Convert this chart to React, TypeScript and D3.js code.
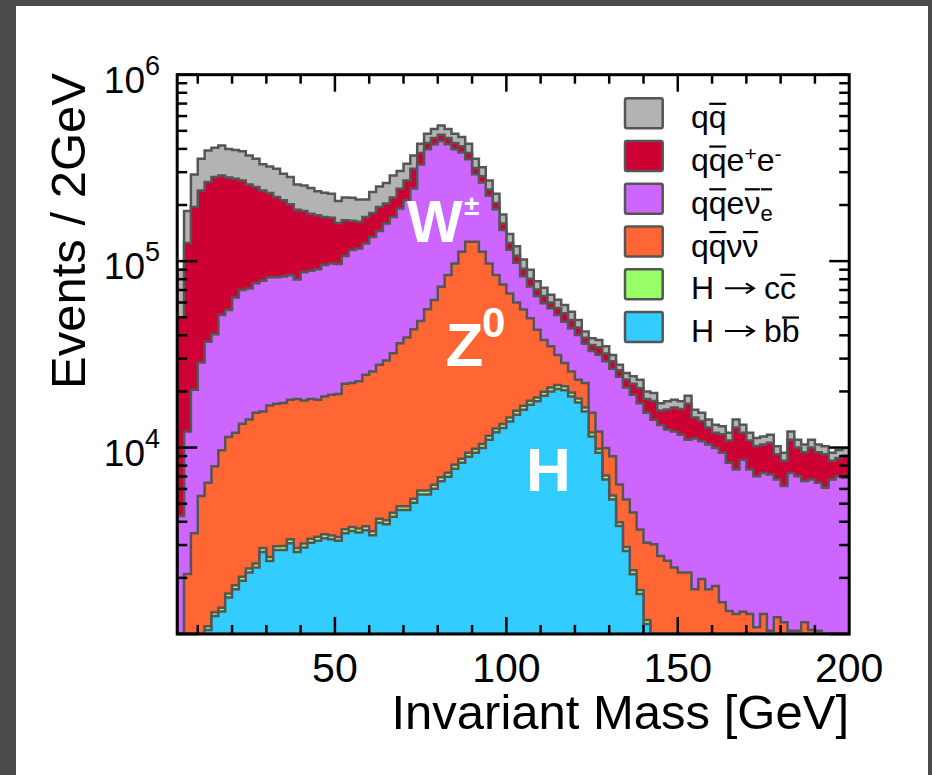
import React from 'react';
import * as d3 from 'd3';

const FONT = '"Liberation Sans", Arial, Helvetica, sans-serif';

// 2 GeV bins, lower edges from 4 to 198 GeV
const binLowEdges = d3.range(4, 200, 2);
const binWidth = 2;

// Series values per bin (events / 2 GeV)
const hbb = [
  0, 0, 0, 0, 1050, 1250, 1320, 1570, 1740, 1930,
  2140, 2275, 2750, 2465, 2820, 2820, 3070, 2750, 2910, 3090,
  3160, 3260, 3220, 3160, 3470, 3570, 3500, 3600, 3390, 3950,
  3875, 4260, 4620, 4620, 5060, 5600, 5600, 6015, 6600, 6970,
  7700, 8290, 8930, 9370, 9960, 11030, 12070, 12740, 13810, 15000,
  15950, 16980, 17700, 18970, 20000, 20600, 20300, 18800, 17460, 15630,
  11480, 9370, 6745, 5270, 3790, 2790, 2090, 1640, 1130, 0,
  0, 0, 0, 0, 0, 0, 0, 0, 0, 0,
  0, 0, 0, 0, 0, 0, 0, 0, 0, 0,
  0, 0, 0, 0, 0, 0, 0, 0,
];
const hcc = [
  0, 0, 0, 0, 50, 60, 65, 80, 85, 95,
  105, 115, 140, 120, 140, 145, 150, 140, 145, 155,
  160, 165, 160, 155, 175, 180, 175, 180, 170, 200,
  195, 215, 230, 230, 255, 280, 280, 300, 330, 350,
  385, 415, 445, 470, 500, 550, 600, 640, 690, 750,
  800, 850, 885, 950, 1000, 1030, 1015, 940, 870, 780,
  575, 470, 340, 265, 190, 140, 105, 80, 60, 0,
  0, 0, 0, 0, 0, 0, 0, 0, 0, 0,
  0, 0, 0, 0, 0, 0, 0, 0, 0, 0,
  0, 0, 0, 0, 0, 0, 0, 0,
];
const qqnn = [
  500, 2100, 3470, 5500, 5370, 6630, 8295, 9760, 10165, 11375,
  11885, 12960, 12740, 14245, 14230, 14365, 14850, 15310, 14845, 14955,
  14750, 15375, 15810, 16085, 18335, 18420, 18975, 20770, 22010, 23650,
  25230, 27625, 31450, 34050, 37785, 41920, 49320, 55485, 65970, 76880,
  89115, 103495, 117525, 117060, 101740, 85620, 71530, 61620, 52500, 44250,
  38250, 31570, 24215, 17880, 13900, 9770, 7085, 5830, 4770, 5790,
  3295, 2360, 2875, 3455, 2360, 2340, 2285, 1920, 1900, 3030,
  2620, 2470, 2275, 2140, 2140, 1740, 1970, 1740, 1810, 1480,
  1330, 1280, 1316, 1280, 1086, 1280, 1040, 1230, 1155, 1040,
  1040, 1155, 1050, 1040, 900, 850, 800, 800,
];
const qqen = [
  3800, 10100, 16930, 23100, 30530, 32560, 41720, 43290, 51910, 56600,
  57270, 60650, 62870, 65070, 64710, 65270, 65930, 61600, 69300, 70600,
  72430, 76500, 78010, 77000, 84420, 92430, 94350, 99850, 109130, 117500,
  129700, 140300, 155000, 173000, 201900, 282200, 342800, 361200, 368100, 338800,
  300800, 269800, 225100, 165100, 151800, 126800, 105800, 72000, 48000, 38000,
  28000, 23600, 22200, 21600, 21000, 20000, 18900, 18030, 17100, 13800,
  17650, 19300, 19040, 17510, 17660, 15730, 14720, 13660, 12260, 11070,
  10580, 10030, 9925, 9560, 8860, 9460, 8830, 8660, 8150, 7890,
  6960, 6340, 7284, 6340, 5934, 6030, 6120, 5520, 5065, 6270,
  5980, 5455, 5700, 5430, 5190, 5900, 6220, 6080,
];
const qqee = [
  45700, 112800, 174600, 210400, 228700, 241900, 237000, 225800, 213100, 201000,
  186600, 173700, 160500, 149800, 138700, 129400, 117700, 109100, 98400, 91000,
  85700, 77200, 73800, 63900, 59300, 50100, 45600, 48100, 46500, 49700,
  44700, 47100, 53300, 59100, 68000, 50000, 32000, 34000, 35000, 34000,
  32000, 31000, 28000, 24000, 21000, 18000, 15000, 12000, 10000, 9000,
  8000, 7500, 5500, 5600, 4100, 4600, 5200, 4700, 3800, 2800,
  2500, 3000, 3000, 2500, 2000, 2200, 2800, 3500, 2850, 3700,
  2600, 3500, 4200, 4400, 6200, 3300, 3100, 2400, 2040, 2430,
  2610, 5180, 3400, 3280, 3180, 3090, 3440, 2450, 2280, 3690,
  2980, 2840, 3250, 2980, 3110, 1750, 1780, 2170,
];
const qq = [
  40000, 60600, 96800, 115000, 126600, 123200, 128600, 119500, 118000, 117800,
  110800, 104300, 91700, 90600, 92400, 82600, 80700, 69100, 69100, 66800,
  60500, 60100, 59000, 49700, 53800, 53800, 51300, 41400, 53600, 56600,
  58700, 68900, 59400, 61700, 55800, 45600, 52000, 55000, 57600, 55000,
  52000, 49600, 45600, 38000, 34000, 29000, 25000, 19000, 15000, 13000,
  11000, 9500, 7500, 7000, 6000, 6000, 5700, 5200, 4300, 3100,
  3100, 3300, 2900, 2400, 1800, 1900, 2100, 2300, 1800, 1800,
  1500, 1700, 1670, 1600, 1770, 1450, 1450, 1330, 1270, 1200,
  1100, 1330, 1270, 1100, 1060, 1080, 1100, 950, 870, 1200,
  1000, 950, 1000, 950, 950, 870, 900, 910,
];

const seriesKeys = ['hbb', 'hcc', 'qqnn', 'qqen', 'qqee', 'qq'];
const seriesColors = ['#33ccff', '#99ff66', '#ff6633', '#cc66ff', '#cc0033', '#b3b3b3'];
const seriesValues = [hbb, hcc, qqnn, qqen, qqee, qq];

const xMajorTicks = [50, 100, 150, 200];
const xTickLabels = ['50', '100', '150', '200'];
const xMinorTicks = d3.range(10, 200, 10);
const yDecadeExponents = [3, 4, 5, 6];
const yLabelExponents = ['4', '5', '6'];

type Piece = { t: string; bar?: boolean; sup?: boolean; sub?: boolean; space?: boolean; arrow?: boolean };
// legend order top -> bottom
const legendKeys = ['qq', 'qqee', 'qqen', 'qqnn', 'hcc', 'hbb'];
const legendPieces: Piece[][] = [
  [{ t: 'q' }, { t: 'q', bar: true }],
  [{ t: 'q' }, { t: 'q', bar: true }, { t: 'e' }, { t: '+', sup: true }, { t: 'e' }, { t: '-', sup: true }],
  [{ t: 'q' }, { t: 'q', bar: true }, { t: 'e' }, { t: 'ν', bar: true }, { t: 'e', sub: true, bar: true }],
  [{ t: 'q' }, { t: 'q', bar: true }, { t: 'ν' }, { t: 'ν', bar: true }],
  [{ t: 'H' }, { t: ' ', space: true }, { t: '→', arrow: true }, { t: ' ', space: true }, { t: 'c' }, { t: 'c', bar: true }],
  [{ t: 'H' }, { t: ' ', space: true }, { t: '→', arrow: true }, { t: ' ', space: true }, { t: 'b' }, { t: 'b', bar: true }],
];

let measureCtx: CanvasRenderingContext2D | null = null;
function measure(text: string, size: number, weight = 'normal'): number {
  if (!measureCtx) measureCtx = document.createElement('canvas').getContext('2d');
  if (!measureCtx) return text.length * size * 0.55;
  measureCtx.font = `${weight} ${size}px "Liberation Sans", Arial, sans-serif`;
  return measureCtx.measureText(text).width;
}

export default function App() {
  const X0 = 177.2, X1 = 849.2, Y0 = 74.7, Y1 = 634;
  const xs = d3.scaleLinear().domain([4, 200]).range([X0, X1]);
  const ys = d3.scaleLog().domain([1e3, 1e6]).range([Y1, Y0]);
  const yv = (v: number) => (v <= 1e3 ? Y1 : v >= 1e6 ? Y0 : ys(v));

  const rows = binLowEdges.map((lo, i) => {
    const r: any = { lo };
    seriesKeys.forEach((k, j) => (r[k] = seriesValues[j][i]));
    return r;
  });
  const stacked = d3.stack().keys(seriesKeys)(rows);

  const area = d3
    .area<[number, number]>()
    .x((d) => xs(d[0]))
    .y0(Y1)
    .y1((d) => yv(d[1]));

  const layerPaths = stacked.map((layer) => {
    const pts: [number, number][] = [];
    layer.forEach((d, i) => {
      const lo = binLowEdges[i];
      pts.push([lo, d[1]]);
      pts.push([lo + binWidth, d[1]]);
    });
    return area(pts) || '';
  });

  const legendX = 625, legendTextX = 691, legendY = 98.3, legendStep = 42.75;
  const fs = 32;

  const renderLegendLabel = (pieces: Piece[], baseline: number, key: string) => {
    let cx = legendTextX;
    const els: React.ReactNode[] = [];
    pieces.forEach((p, i) => {
      const size = p.sup ? 21 : p.sub ? 22 : fs;
      const dy = p.sup ? -10 : p.sub ? 7 : 0;
      const w = p.arrow ? 32 : measure(p.t, size);
      if (p.arrow) {
        const ay = baseline - 11;
        els.push(
          <path
            key={`${key}-a${i}`}
            d={`M${cx + 2},${ay} L${cx + w - 1},${ay} M${cx + w - 9},${ay - 5} L${cx + w - 1},${ay} L${cx + w - 9},${ay + 5}`}
            fill="none"
            stroke="#000"
            strokeWidth={2}
          />
        );
      } else if (!p.space) {
        els.push(
          <text key={`${key}-t${i}`} x={cx} y={baseline + dy} fontSize={size} fontFamily={FONT} fill="#000">
            {p.t}
          </text>
        );
      }
      if (p.bar) {
        els.push(
          <line key={`${key}-b${i}`} x1={cx + 0.5} x2={cx + w - 0.5} y1={baseline - 24.5} y2={baseline - 24.5} stroke="#000" strokeWidth={2.2} />
        );
      }
      cx += w;
    });
    return els;
  };

  const yMinor: number[] = [];
  yDecadeExponents.slice(0, 3).forEach((e) => {
    for (let k = 2; k <= 9; k++) yMinor.push(k * Math.pow(10, e));
  });

  return (
    <div style={{ position: 'absolute', left: 0, top: 0 }}>
      <svg width={932} height={775} style={{ display: 'block' }}>
        <rect x={0} y={0} width={932} height={775} fill="#4b4b4b" />
        <rect x={16} y={6} width={912} height={769} fill="#ffffff" />
        <defs>
          <clipPath id="plotclip">
            <rect x={X0} y={Y0} width={X1 - X0} height={Y1 - Y0} />
          </clipPath>
        </defs>
        <g clipPath="url(#plotclip)">
          {layerPaths
            .map((p, i) => ({ p, i }))
            .reverse()
            .map(({ p, i }) => (
              <path key={seriesKeys[i]} d={p} fill={seriesColors[i]} stroke="#555555" strokeWidth={2.5} strokeLinejoin="miter" />
            ))}
        </g>

        {/* ticks */}
        <g stroke="#000" strokeWidth={2.5}>
          {xMinorTicks.map((t) => {
            const major = t % 50 === 0;
            const len = major ? 17 : 9;
            return (
              <g key={`xt${t}`}>
                <line x1={xs(t)} x2={xs(t)} y1={Y1} y2={Y1 - len} />
                <line x1={xs(t)} x2={xs(t)} y1={Y0} y2={Y0 + len} />
              </g>
            );
          })}
          {yMinor.map((v) => (
            <g key={`ym${v}`}>
              <line x1={X0} x2={X0 + 10} y1={ys(v)} y2={ys(v)} />
              <line x1={X1} x2={X1 - 10} y1={ys(v)} y2={ys(v)} />
            </g>
          ))}
          {yDecadeExponents.map((e) => (
            <g key={`yM${e}`}>
              <line x1={X0} x2={X0 + 20} y1={ys(Math.pow(10, e))} y2={ys(Math.pow(10, e))} />
              <line x1={X1} x2={X1 - 20} y1={ys(Math.pow(10, e))} y2={ys(Math.pow(10, e))} />
            </g>
          ))}
        </g>
        <rect x={X0} y={Y0} width={X1 - X0} height={Y1 - Y0} fill="none" stroke="#000" strokeWidth={3} />

        {/* tick labels */}
        {xMajorTicks.map((t, i) => (
          <text key={`xl${t}`} x={xs(t)} y={682} textAnchor="middle" fontSize={41} fontFamily={FONT} fill="#000">
            {xTickLabels[i]}
          </text>
        ))}
        {yLabelExponents.map((e) => (
          <text key={`yl${e}`} x={160} y={ys(Math.pow(10, +e)) + 18} textAnchor="end" fontSize={37} fontFamily={FONT} fill="#000">
            10
            <tspan dy={-18} fontSize={27}>
              {e}
            </tspan>
          </text>
        ))}

        {/* axis titles */}
        <text x={849} y={729} textAnchor="end" fontSize={49} fontFamily={FONT} fill="#000">
          Invariant Mass [GeV]
        </text>
        <text transform="translate(85,73) rotate(-90)" textAnchor="end" fontSize={49} fontFamily={FONT} fill="#000">
          Events / 2GeV
        </text>

        {/* peak labels */}
        <text x={407} y={241.7} fontSize={59} fontWeight="bold" fontFamily={FONT} fill="#fff">W</text>
        <text x={464} y={215} fontSize={28} fontWeight="bold" fontFamily={FONT} fill="#fff">±</text>
        <text x={445.5} y={366} fontSize={62} fontWeight="bold" fontFamily={FONT} fill="#fff">Z</text>
        <text x={482} y={336.7} fontSize={42} fontWeight="bold" fontFamily={FONT} fill="#fff">0</text>
        <text x={526} y={490.7} fontSize={62} fontWeight="bold" fontFamily={FONT} fill="#fff">H</text>

        {/* legend */}
        {legendKeys.map((k, r) => {
          const idx = seriesKeys.indexOf(k);
          const top = legendY + r * legendStep;
          return (
            <g key={`lg${k}`}>
              <rect x={legendX} y={top} width={37.7} height={30} rx={2} fill={seriesColors[idx]} stroke="#555555" strokeWidth={2.5} />
              {renderLegendLabel(legendPieces[r], top + 30, k)}
            </g>
          );
        })}
      </svg>
    </div>
  );
}
